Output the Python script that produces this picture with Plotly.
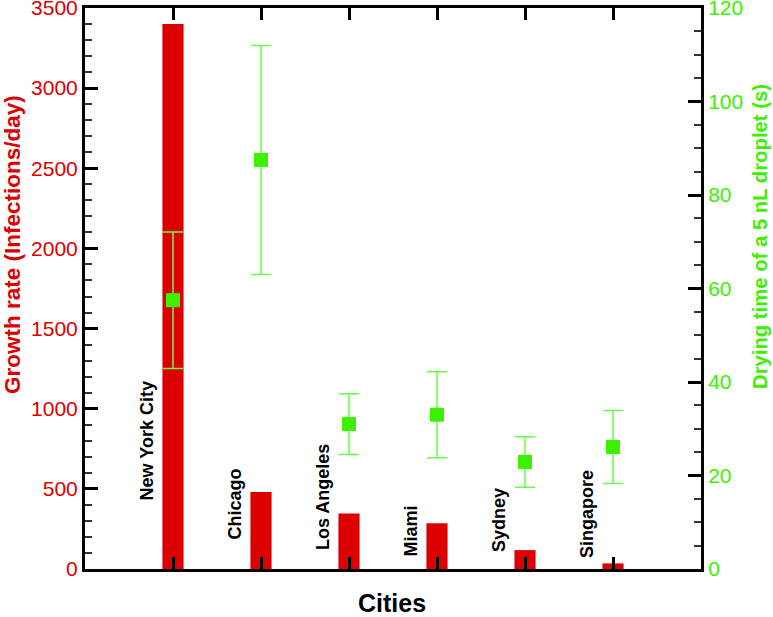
import plotly.graph_objects as go

cities = ["New York City", "Chicago", "Los Angeles", "Miami", "Sydney", "Singapore"]
growth_rate = [3400, 480, 347, 285, 118, 35]
drying_time = [57.5, 87.5, 31.0, 33.0, 22.9, 26.1]
drying_err = [14.6, 24.5, 6.5, 9.2, 5.4, 7.8]
label_bottom = [412, 168, 106, 62, 94, 56]

RED = "#dd0000"
GREEN = "#3cf000"
GREEN_LIGHT = "#66ff44"
FONT = "Arial, Liberation Sans, sans-serif"

fig = go.Figure()
fig.add_trace(go.Bar(
    x=cities, y=growth_rate, width=0.24,
    marker=dict(color=RED, line=dict(width=0)),
    yaxis="y", showlegend=False,
))
fig.add_trace(go.Scatter(
    x=cities, y=drying_time, mode="markers",
    marker=dict(symbol="square", size=14, color=GREEN),
    error_y=dict(type="data", array=drying_err, visible=True,
                 color=GREEN_LIGHT, thickness=1.5, width=10),
    yaxis="y2", showlegend=False,
))

for c, yb in zip(cities, label_bottom):
    fig.add_annotation(
        x=c, y=yb, xref="x", yref="y", text=c, textangle=-90,
        showarrow=False, xanchor="center", yanchor="bottom", xshift=-26,
        font=dict(family=FONT, size=18, color="black", weight="bold"),
    )

# axis titles as annotations (positioned like the reference)
fig.add_annotation(
    x=-0.1185, y=0.5775, xref="paper", yref="paper", textangle=-90,
    text="<b>Growth rate (Infections/day)</b>", showarrow=False,
    xanchor="center", yanchor="middle",
    font=dict(family=FONT, size=22.5, color=RED),
)
fig.add_annotation(
    x=1.0958, y=0.5918, xref="paper", yref="paper", textangle=-90,
    text="<b>Drying time of a 5 nL droplet (s)</b>", showarrow=False,
    xanchor="center", yanchor="middle",
    font=dict(family=FONT, size=20.3, color=GREEN),
)
fig.add_annotation(
    x=0.498, y=-0.061, xref="paper", yref="paper",
    text="<b>Cities</b>", showarrow=False,
    xanchor="center", yanchor="middle",
    font=dict(family=FONT, size=25, color="black"),
)

fig.update_layout(
    width=773, height=617,
    margin=dict(l=85, r=72, t=8, b=48),
    paper_bgcolor="white", plot_bgcolor="white",
    font=dict(family=FONT),
    xaxis=dict(
        type="category", range=[-1, 6], automargin=False,
        showticklabels=False, ticks="inside", ticklen=12, tickwidth=3,
        tickcolor="black", showline=True, linecolor="black", linewidth=3,
        mirror="ticks", showgrid=False, zeroline=False,
    ),
    yaxis=dict(
        range=[0, 3500], dtick=500, ticks="inside", ticklen=13, tickwidth=3,
        automargin=False, ticklabeloverflow="allow",
        tickcolor="black", showline=True, linecolor="black", linewidth=3,
        showgrid=False, zeroline=False,
        tickfont=dict(size=21, color=RED),
        minor=dict(dtick=100, ticks="inside", ticklen=7, tickwidth=1.5, tickcolor="#333"),
    ),
    yaxis2=dict(
        range=[0, 120], dtick=20, overlaying="y", side="right",
        automargin=False, ticklabeloverflow="allow",
        ticks="inside", ticklen=13, tickwidth=3,
        tickcolor="black", showline=True, linecolor="black", linewidth=3,
        showgrid=False, zeroline=False,
        tickfont=dict(size=21, color=GREEN),
        minor=dict(dtick=5, ticks="inside", ticklen=7, tickwidth=1.5, tickcolor="#333"),
    ),
)

fig.write_html("out.html", config={"displayModeBar": False},
               post_script="document.body.style.margin='0';")
